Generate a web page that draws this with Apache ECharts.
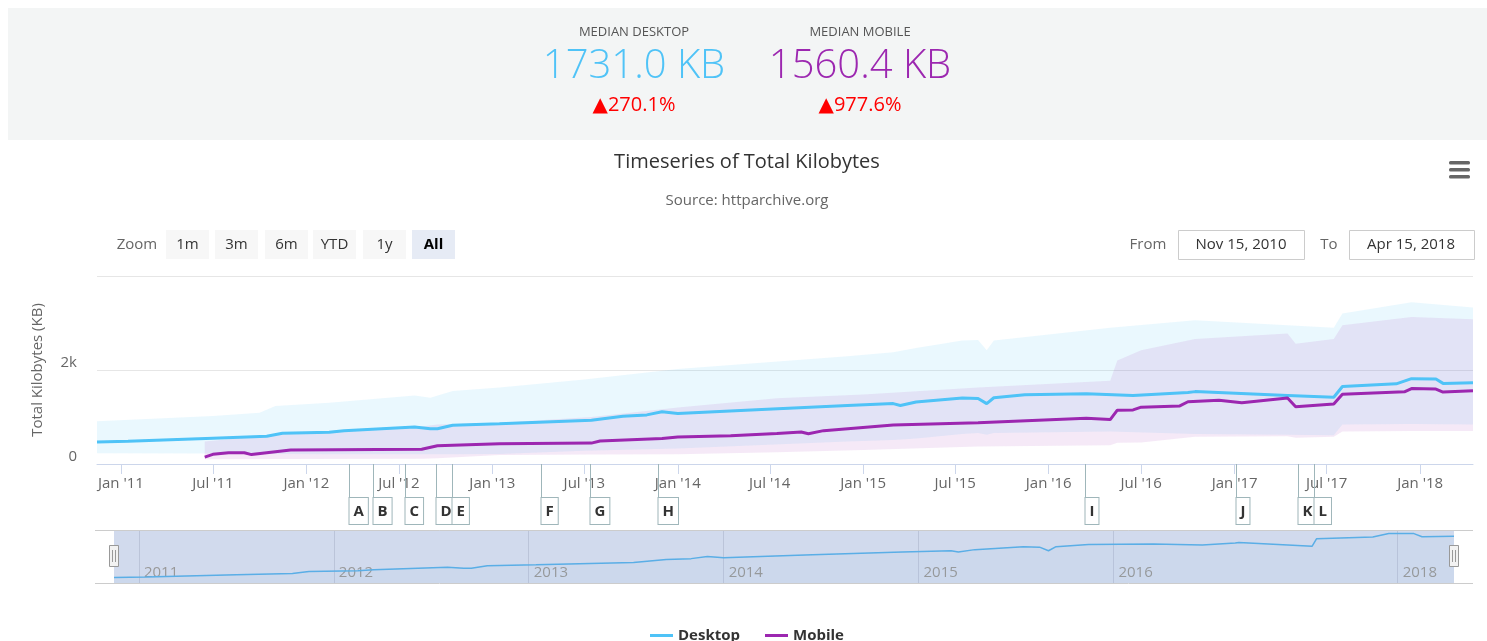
<!DOCTYPE html>
<html>
<head>
<meta charset="utf-8">
<title>Timeseries of Total Kilobytes</title>
<script src="https://cdn.jsdelivr.net/npm/echarts@6/dist/echarts.min.js"></script>
<style>
html, body { margin: 0; padding: 0; background: #fff; }
#chart { width: 1487px; height: 641px; }
</style>
</head>
<body>
<div id="chart"></div>
<script>
// median total kilobytes
var desktopMedian = [
    ['2010-11-15', 468], ['2011-01-15', 485], ['2011-07-01', 550], ['2011-10-15', 590],
    ['2011-11-15', 655], ['2012-02-15', 675], ['2012-03-15', 705], ['2012-08-01', 785],
    ['2012-09-01', 750], ['2012-09-15', 750], ['2012-10-15', 825], ['2013-01-15', 855],
    ['2013-07-15', 930], ['2013-09-15', 1015], ['2013-11-01', 1045], ['2013-12-01', 1110],
    ['2014-01-01', 1075], ['2014-06-15', 1160], ['2014-12-01', 1245], ['2015-03-01', 1285],
    ['2015-03-15', 1245], ['2015-04-15', 1320], ['2015-07-15', 1405], ['2015-08-15', 1395],
    ['2015-09-01', 1285], ['2015-09-15', 1410], ['2015-11-15', 1475], ['2016-03-15', 1495],
    ['2016-06-15', 1460], ['2016-10-01', 1520], ['2016-10-15', 1540], ['2017-04-15', 1460],
    ['2017-07-15', 1420], ['2017-08-01', 1650], ['2017-11-15', 1705], ['2017-12-15', 1815],
    ['2018-02-01', 1810], ['2018-02-15', 1715], ['2018-04-15', 1731]
];
var mobileMedian = [
    ['2011-06-15', 145], ['2011-07-01', 205], ['2011-08-01', 240], ['2011-09-01', 240],
    ['2011-09-15', 200], ['2011-10-15', 240], ['2011-12-01', 300], ['2012-08-15', 315],
    ['2012-09-15', 390], ['2013-01-15', 430], ['2013-07-15', 445], ['2013-08-01', 490],
    ['2013-12-01', 545], ['2014-01-01', 575], ['2014-04-15', 600], ['2014-07-15', 650],
    ['2014-09-01', 680], ['2014-09-15', 645], ['2014-10-15', 710], ['2015-03-01', 830],
    ['2015-08-15', 880], ['2016-03-15', 975], ['2016-05-01', 945], ['2016-05-15', 1145],
    ['2016-06-15', 1150], ['2016-07-01', 1210], ['2016-09-15', 1235], ['2016-10-01', 1325],
    ['2016-12-01', 1355], ['2017-01-15', 1305], ['2017-04-15', 1405], ['2017-05-01', 1220],
    ['2017-07-15', 1275], ['2017-08-01', 1485], ['2017-12-01', 1535], ['2017-12-15', 1605],
    ['2018-02-01', 1595], ['2018-02-15', 1530], ['2018-04-15', 1560]
];
// [date, low, high] of the shaded ranges
var desktopRange = [
    ['2010-11-15', 230, 910], ['2011-07-01', 225, 1020], ['2011-10-01', 215, 1090],
    ['2011-11-01', 215, 1235], ['2012-02-15', 210, 1305], ['2012-08-01', 210, 1460],
    ['2012-09-01', 205, 1410], ['2012-10-15', 210, 1555], ['2013-01-15', 215, 1630],
    ['2013-07-01', 280, 1800], ['2014-01-01', 330, 2020], ['2014-12-01', 480, 2290],
    ['2015-03-01', 510, 2380], ['2015-04-15', 540, 2470], ['2015-07-15', 640, 2630],
    ['2015-08-15', 660, 2640], ['2015-09-01', 620, 2420], ['2015-09-15', 660, 2630],
    ['2016-05-01', 690, 2900], ['2016-10-15', 640, 3060], ['2017-04-15', 620, 2950],
    ['2017-07-15', 610, 2900], ['2017-08-01', 840, 3200], ['2017-12-15', 850, 3440],
    ['2018-04-15', 840, 3330]
];
var mobileRange = [
    ['2011-06-15', 100, 480], ['2011-11-01', 105, 620], ['2012-08-15', 110, 800],
    ['2012-09-15', 120, 840], ['2013-01-15', 190, 880], ['2013-07-15', 200, 1000],
    ['2014-01-01', 210, 1200], ['2014-07-15', 250, 1400], ['2015-01-01', 300, 1480],
    ['2015-08-15', 370, 1630], ['2016-05-01', 400, 1770], ['2016-05-15', 450, 2200],
    ['2016-07-01', 460, 2420], ['2016-10-15', 580, 2660], ['2017-04-15', 590, 2775],
    ['2017-05-01', 560, 2560], ['2017-07-15', 580, 2660], ['2017-08-01', 690, 2950],
    ['2017-12-15', 700, 3130], ['2018-04-15', 700, 3080]
];
var flagLetters = ['A', 'B', 'C', 'D', 'E', 'F', 'G', 'H', 'I', 'J', 'K', 'L'];
var flagDates = ['2012-03-25', '2012-05-11', '2012-07-13', '2012-09-12', '2012-10-14', '2013-04-07',
    '2013-07-12', '2013-11-23', '2016-03-12', '2017-01-04', '2017-05-06', '2017-06-06'];
var halfYearTicks = ['2011-01-01', '2011-07-01', '2012-01-01', '2012-07-01', '2013-01-01', '2013-07-01',
    '2014-01-01', '2014-07-01', '2015-01-01', '2015-07-01', '2016-01-01', '2016-07-01',
    '2017-01-01', '2017-07-01', '2018-01-01'];
var navigatorTicks = ['2011-01-01', '2012-01-01', '2013-01-01', '2014-01-01', '2015-01-01', '2016-01-01', '2018-01-01'];
// the navigator spaces runs evenly (ordinal): two runs a month, one a month from Jul 2016 to Jul 2017
var navigatorRunsPerMonth = [['2010-11-15', 2], ['2016-07-01', 1], ['2017-08-01', 2]];
var summaryLabels = ['MEDIAN DESKTOP', 'MEDIAN MOBILE'];
var summaryValues = ['1731.0 KB', '1560.4 KB'];
var summaryChanges = ['\u25B2270.1%', '\u25B2977.6%'];
var zoomButtons = ['1m', '3m', '6m', 'YTD', '1y', 'All'];
var rangeFrom = 'Nov 15, 2010';
var rangeTo = 'Apr 15, 2018';

var FONT = '"Open Sans", "DejaVu Sans", sans-serif';
var desktopColor = '#4fc3f7';
var mobileColor = '#9c27b0';
var flagColor = '#9fb6ba';
var MONTHS = ['Jan', 'Feb', 'Mar', 'Apr', 'May', 'Jun', 'Jul', 'Aug', 'Sep', 'Oct', 'Nov', 'Dec'];

function toTs(s) {
    var p = s.split('-');
    return new Date(+p[0], +p[1] - 1, +p[2]).getTime();
}
function points(rows) {
    return rows.map(function (r) { return [toTs(r[0]), r[1]]; });
}
// continuous month count of a date
function monthPos(s) {
    var p = s.split('-');
    var dim = new Date(+p[0], +p[1], 0).getDate();
    return (+p[0]) * 12 + (+p[1] - 1) + (+p[2] - 1) / dim;
}
// ordinal position (number of runs since the first one) used by the navigator axis
function navPos(s) {
    var m = monthPos(s), u = 0;
    navigatorRunsPerMonth.forEach(function (seg, i) {
        var start = monthPos(seg[0]);
        var end = i + 1 < navigatorRunsPerMonth.length ? monthPos(navigatorRunsPerMonth[i + 1][0]) : Infinity;
        if (m > start) u += seg[1] * (Math.min(m, end) - start);
    });
    return u;
}
// shaded low..high range, drawn as one polygon through the axis scales
function band(name, rows, color) {
    return {
        name: name, type: 'custom', silent: true, z: 1,
        data: rows.map(function (r) { return [toTs(r[0]), r[1], r[2]]; }),
        encode: { x: 0, y: [1, 2] },
        renderItem: function (params, api) {
            if (params.dataIndex !== 0) return null;
            var upper = [], lower = [];
            rows.forEach(function (r) {
                var t = toTs(r[0]);
                upper.push(api.coord([t, r[2]]));
                lower.unshift(api.coord([t, r[1]]));
            });
            return {
                type: 'polygon',
                shape: { points: upper.concat(lower) },
                style: { fill: color }
            };
        }
    };
}

var xMin = toTs('2010-11-15'), xMax = toTs('2018-04-15');
var navTickValues = navigatorTicks.map(navPos);

var graphics = [];
// summary header
graphics.push({ type: 'rect', shape: { x: 8, y: 8, width: 1479, height: 132 }, style: { fill: '#f3f5f5' }, z: -10 });
[634, 860].forEach(function (cx, i) {
    var col = i === 0 ? desktopColor : mobileColor;
    graphics.push({ type: 'text', x: cx, y: 32, style: { text: summaryLabels[i], fill: '#555', fontSize: 13, fontFamily: FONT, align: 'center', verticalAlign: 'middle' } });
    graphics.push({ type: 'text', x: cx, y: 67, style: { text: summaryValues[i], fill: col, fontSize: 40, fontWeight: 300, fontFamily: FONT, align: 'center', verticalAlign: 'middle' } });
    graphics.push({ type: 'text', x: cx, y: 105, style: { text: summaryChanges[i], fill: '#f00', fontSize: 20, fontFamily: FONT, align: 'center', verticalAlign: 'middle' } });
});
// title, subtitle
graphics.push({ type: 'text', x: 747, y: 162, style: { text: 'Timeseries of Total Kilobytes', fill: '#333', fontSize: 20, fontFamily: FONT, align: 'center', verticalAlign: 'middle' } });
graphics.push({ type: 'text', x: 747, y: 201, style: { text: 'Source: httparchive.org', fill: '#666', fontSize: 15, fontFamily: FONT, align: 'center', verticalAlign: 'middle' } });
// menu icon
[161, 168, 175].forEach(function (y) {
    graphics.push({ type: 'rect', shape: { x: 1449, y: y, width: 21, height: 3.5, r: 1.5 }, style: { fill: '#666' } });
});
// range selector
graphics.push({ type: 'text', x: 137, y: 245, style: { text: 'Zoom', fill: '#666', fontSize: 15, fontFamily: FONT, align: 'center', verticalAlign: 'middle' } });
zoomButtons.forEach(function (b, i) {
    var x = [166, 215, 265, 313, 363, 412][i];
    var sel = b === 'All';
    graphics.push({ type: 'rect', shape: { x: x, y: 230, width: 43, height: 29 }, style: { fill: sel ? '#e6ebf5' : '#f7f7f7' } });
    graphics.push({ type: 'text', x: x + 21.5, y: 245, style: { text: b, fill: sel ? '#000' : '#333', fontWeight: sel ? 'bold' : 'normal', fontSize: 15, fontFamily: FONT, align: 'center', verticalAlign: 'middle' } });
});
graphics.push({ type: 'text', x: 1148, y: 245, style: { text: 'From', fill: '#666', fontSize: 15, fontFamily: FONT, align: 'center', verticalAlign: 'middle' } });
graphics.push({ type: 'rect', shape: { x: 1178.5, y: 230.5, width: 126, height: 29 }, style: { fill: '#fff', stroke: '#ccc', lineWidth: 1 } });
graphics.push({ type: 'text', x: 1241, y: 245, style: { text: rangeFrom, fill: '#333', fontSize: 15, fontFamily: FONT, align: 'center', verticalAlign: 'middle' } });
graphics.push({ type: 'text', x: 1329, y: 245, style: { text: 'To', fill: '#666', fontSize: 15, fontFamily: FONT, align: 'center', verticalAlign: 'middle' } });
graphics.push({ type: 'rect', shape: { x: 1349.5, y: 230.5, width: 125, height: 29 }, style: { fill: '#fff', stroke: '#ccc', lineWidth: 1 } });
graphics.push({ type: 'text', x: 1411, y: 245, style: { text: rangeTo, fill: '#333', fontSize: 15, fontFamily: FONT, align: 'center', verticalAlign: 'middle' } });
// navigator outline and handles
graphics.push({ type: 'line', shape: { x1: 95, y1: 530.5, x2: 1473, y2: 530.5 }, style: { stroke: '#ccc', lineWidth: 1 }, z: 20 });
graphics.push({ type: 'line', shape: { x1: 95, y1: 583.5, x2: 1473, y2: 583.5 }, style: { stroke: '#ccc', lineWidth: 1 }, z: 20 });
[114, 1454].forEach(function (cx) {
    graphics.push({ type: 'rect', shape: { x: cx - 4.5, y: 545.5, width: 9, height: 21 }, style: { fill: '#f2f2f2', stroke: '#999', lineWidth: 1 }, z: 30 });
    graphics.push({ type: 'line', shape: { x1: cx - 1.5, y1: 550, x2: cx - 1.5, y2: 562 }, style: { stroke: '#999', lineWidth: 1 }, z: 31 });
    graphics.push({ type: 'line', shape: { x1: cx + 1.5, y1: 550, x2: cx + 1.5, y2: 562 }, style: { stroke: '#999', lineWidth: 1 }, z: 31 });
});

var chart = echarts.init(document.getElementById('chart'));
// x axes are value axes (timestamps / run positions) so that tick dates can be given exactly
var option = {
    animation: false,
    textStyle: { fontFamily: FONT },
    graphic: graphics,
    legend: {
        data: ['Desktop', 'Mobile'],
        left: 645, top: 623,
        icon: 'rect', itemWidth: 23, itemHeight: 3, itemGap: 25,
        textStyle: { fontSize: 15, fontWeight: 'bold', color: '#333', fontFamily: FONT }
    },
    grid: [
        { left: 97, right: 14, top: 276, height: 188 },
        { left: 114, right: 33, top: 530, height: 53, show: true, backgroundColor: 'rgba(102,133,194,0.3)', borderWidth: 0 }
    ],
    xAxis: [{
        type: 'value', gridIndex: 0, min: xMin, max: xMax, scale: true,
        axisLine: { lineStyle: { color: '#ccd6eb' } },
        axisTick: { show: true, length: 10, lineStyle: { color: '#ccd6eb' }, customValues: halfYearTicks.map(toTs) },
        axisLabel: {
            customValues: halfYearTicks.map(toTs),
            margin: 12, fontSize: 15, color: '#666', fontFamily: FONT,
            formatter: function (v) {
                var d = new Date(v);
                return MONTHS[d.getMonth()] + " '" + String(d.getFullYear()).slice(2);
            }
        },
        splitLine: { show: false }
    }, {
        type: 'value', gridIndex: 1, min: 0, max: navPos('2018-04-15'), scale: true,
        axisLine: { show: false },
        axisTick: { show: false, customValues: navTickValues },
        axisLabel: {
            customValues: navTickValues,
            inside: true, margin: 3, align: 'left', verticalAlign: 'bottom', padding: [0, 0, 0, 5],
            fontSize: 15, color: '#999', fontFamily: FONT,
            formatter: function (v) {
                var best = 0;
                navTickValues.forEach(function (t, i) {
                    if (Math.abs(t - v) < Math.abs(navTickValues[best] - v)) best = i;
                });
                return navigatorTicks[best].slice(0, 4);
            }
        },
        splitLine: { show: true, lineStyle: { color: 'rgba(110,120,145,0.22)', width: 1 } }
    }],
    yAxis: [{
        type: 'value', gridIndex: 0, min: 0, max: 4000, interval: 2000,
        name: 'Total Kilobytes (KB)', nameLocation: 'middle', nameGap: 52, nameRotate: 90,
        nameTextStyle: { fontSize: 15, color: '#666', fontFamily: FONT },
        axisLine: { show: false }, axisTick: { show: false },
        axisLabel: {
            showMaxLabel: false, margin: 20, verticalAlign: 'bottom',
            fontSize: 15, color: '#666', fontFamily: FONT,
            formatter: function (v) { return v === 0 ? '0' : (v / 1000) + 'k'; }
        },
        splitLine: { lineStyle: { color: '#e6e6e6' } }
    }, {
        type: 'value', gridIndex: 1, min: 300, max: 1920, show: false, splitLine: { show: false }
    }],
    series: [
        band('Desktop range', desktopRange, 'rgba(79,195,247,0.12)'),
        band('Mobile range', mobileRange, 'rgba(156,39,176,0.10)'),
        {
            name: 'Desktop', type: 'line', symbol: 'none', z: 3,
            data: points(desktopMedian),
            itemStyle: { color: desktopColor },
            lineStyle: { color: desktopColor, width: 3 }
        }, {
            name: 'Mobile', type: 'line', symbol: 'none', z: 3,
            data: points(mobileMedian),
            itemStyle: { color: mobileColor },
            lineStyle: { color: mobileColor, width: 3 }
        }, {
            name: 'Flags', type: 'custom', clip: false, silent: true, z: 4,
            xAxisIndex: 0, yAxisIndex: 0,
            data: flagDates.map(function (d) { return [toTs(d), 0]; }),
            encode: { x: 0, y: 1 },
            renderItem: function (params, api) {
                var p = api.coord([api.value(0), 0]);
                var x = Math.round(p[0]) + 0.5;
                return {
                    type: 'group',
                    children: [{
                        type: 'line',
                        shape: { x1: x, y1: p[1], x2: x, y2: p[1] + 34 },
                        style: { stroke: flagColor, lineWidth: 1 }
                    }, {
                        type: 'text', x: x, y: p[1] + 34,
                        style: {
                            text: flagLetters[params.dataIndex],
                            fill: '#333', fontSize: 15, fontWeight: 'bold', fontFamily: FONT,
                            align: 'left', verticalAlign: 'top',
                            backgroundColor: '#fff', borderColor: flagColor, borderWidth: 1,
                            padding: [6, 4, 5, 4]
                        }
                    }]
                };
            }
        }, {
            name: 'Navigator', type: 'line', symbol: 'none', silent: true,
            xAxisIndex: 1, yAxisIndex: 1,
            data: desktopMedian.map(function (r) { return [navPos(r[0]), r[1]]; }),
            lineStyle: { color: '#5aaee6', width: 1.5 },
            areaStyle: { color: 'rgba(90,174,230,0.05)' }
        }
    ]
};
chart.setOption(option);
</script>
</body>
</html>
